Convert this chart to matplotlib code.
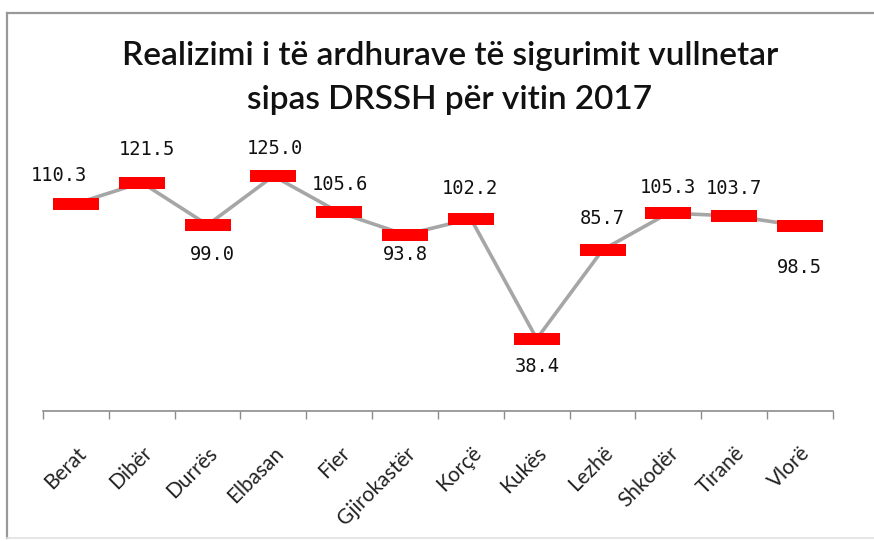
import matplotlib
matplotlib.use("Agg")
import matplotlib.pyplot as plt
from matplotlib.path import Path
from matplotlib.lines import Line2D
import numpy as np

categories = ["Berat", "Dibër", "Durrës", "Elbasan", "Fier", "Gjirokastër",
              "Korçë", "Kukës", "Lezhë", "Shkodër", "Tiranë", "Vlorë"]
values = [110.3, 121.5, 99.0, 125.0, 105.6, 93.8, 102.2, 38.4, 85.7, 105.3, 103.7, 98.5]
value_labels = ["110.3", "121.5", "99.0", "125.0", "105.6", "93.8",
                "102.2", "38.4", "85.7", "105.3", "103.7", "98.5"]
title = "Realizimi i të ardhurave të sigurimit vullnetar\nsipas DRSSH për vitin 2017"

# label offsets in pixels (dx, dy up-positive)
label_offsets = [(-17, 28), (5, 33), (5, -30), (1, 27), (1, 28), (0, -20),
                 (-1, 30), (0, -28), (0, 31), (-1, 26), (0, 28), (-1, -42)]

W, H = 874, 541
fig = plt.figure(figsize=(W / 100, H / 100), dpi=100)
ax = fig.add_axes([43 / W, 1 - 411 / H, (833 - 43) / W, (411 - 129) / H])

x = np.arange(len(categories))
rect = Path([(-1, -0.26), (1, -0.26), (1, 0.26), (-1, 0.26), (-1, -0.26)],
            [Path.MOVETO, Path.LINETO, Path.LINETO, Path.LINETO, Path.CLOSEPOLY])
ax.plot(x, values, color="#a6a6a6", lw=2.6, zorder=2)
ax.plot(x, values, linestyle="none", marker=rect, markersize=33,
        markerfacecolor="#ff0000", markeredgecolor="#ff0000", markeredgewidth=0, zorder=3)

for xi, v, lab, (dx, dy) in zip(x, values, value_labels, label_offsets):
    ax.annotate(lab, (xi, v), xytext=(dx * 0.72, dy * 0.72), textcoords="offset points",
                ha="center", va="center", fontsize=13.5, family="DejaVu Sans Mono",
                color="#111111")

ax.set_xlim(-0.5, len(categories) - 0.5)
ax.set_ylim(0, 150)
for s in ["top", "right", "left"]:
    ax.spines[s].set_visible(False)
ax.spines["bottom"].set_color("#8c8c8c")
ax.spines["bottom"].set_linewidth(1.2)
ax.set_yticks([])
ax.set_xticks(x)
ax.set_xticklabels(categories, rotation=45, ha="right", rotation_mode="anchor",
                   fontsize=15, family="Lato", color="#222222")
ax.tick_params(axis="x", which="major", length=0, pad=23)
ax.set_xticks(np.arange(-0.5, len(categories), 1), minor=True)
ax.tick_params(axis="x", which="minor", length=6, width=1, color="#8c8c8c", direction="out")

fig.text(450 / W, 1 - 78 / H, title, ha="center", va="center", fontsize=24,
         family="Lato", fontweight="semibold", color="#111111", linespacing=1.55)

fig.add_artist(Line2D([7 / W, 1], [1 - 13 / H, 1 - 13 / H], color="#999999", lw=1.6,
                      transform=fig.transFigure))
fig.add_artist(Line2D([7 / W, 7 / W], [1 - 538 / H, 1 - 13 / H], color="#999999", lw=1.6,
                      transform=fig.transFigure))
fig.add_artist(Line2D([7 / W, 1], [1 - 538 / H, 1 - 538 / H], color="#e0e0e0", lw=1.2,
                      transform=fig.transFigure))

fig.savefig("out.png", dpi=100)
